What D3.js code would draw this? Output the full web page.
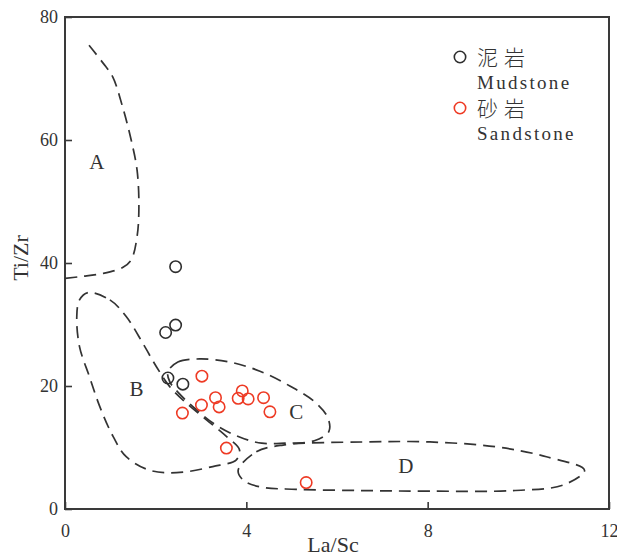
<!DOCTYPE html>
<html>
<head>
<meta charset="utf-8">
<script src="https://cdn.jsdelivr.net/npm/d3@7/dist/d3.min.js"></script>
<style>
  body { margin: 0; background: #fff; }
  text { font-family: "Liberation Serif", "Times New Roman", serif; fill: #333; }
  .cjk { font-family: "Noto Sans CJK SC", sans-serif; }
</style>
</head>
<body>
<div id="chart"></div>
<script>
// samples (La/Sc, Ti/Zr)
const mudstone = [[2.44, 39.4], [2.22, 28.7], [2.44, 29.9], [2.27, 21.3], [2.60, 20.3]];
const sandstone = [
  [3.02, 21.6], [3.32, 18.1], [3.40, 16.6], [3.01, 16.9], [2.59, 15.6],
  [3.91, 19.2], [3.82, 18.0], [4.04, 17.9], [4.38, 18.1], [4.52, 15.8],
  [3.56, 9.9], [5.32, 4.3]
];

// field outlines
const fieldA = [[0.53, 75.4], [0.84, 72.5], [1.05, 70.3], [1.27, 65.4], [1.46, 60.0], [1.59, 55.1],
  [1.63, 49.2], [1.59, 44.3], [1.46, 40.5], [1.28, 39.3], [0.84, 38.3], [0.36, 37.8], [0.0, 37.5]];
const fieldB = [[0.51, 35.2], [0.99, 34.0], [1.35, 31.3], [1.72, 26.9], [2.02, 23.1], [2.31, 19.9],
  [2.68, 17.2], [3.12, 14.5], [3.56, 11.8], [3.85, 9.6], [3.78, 8.0], [3.26, 6.9], [2.46, 5.9],
  [1.87, 6.3], [1.35, 8.5], [1.06, 11.8], [0.77, 16.6], [0.54, 21.5], [0.32, 26.4], [0.26, 31.3], [0.32, 34.0]];
const fieldC = [[2.27, 22.3], [2.49, 23.9], [2.97, 24.4], [3.63, 23.9], [4.30, 22.4], [4.96, 20.0],
  [5.51, 17.4], [5.80, 14.8], [5.82, 12.6], [5.50, 11.1], [4.85, 10.7], [4.34, 10.7], [3.85, 11.7],
  [3.30, 13.8], [2.86, 16.4], [2.49, 19.0], [2.31, 20.7]];
const fieldD = [[3.82, 6.3], [4.22, 9.3], [4.81, 10.4], [6.57, 10.9], [8.05, 10.9], [9.52, 10.1],
  [10.62, 8.5], [11.46, 6.3], [10.99, 3.9], [9.88, 3.0], [8.05, 2.9], [6.57, 3.0], [5.10, 3.2],
  [4.30, 3.6], [3.93, 4.7]];

const fieldLabels = ['A', 'B', 'C', 'D'];
const fieldLabelPos = [[0.70, 56.5], [1.58, 19.6], [5.10, 15.8], [7.52, 7.0]];

const xTicks = [0, 4, 8, 12];
const yTicks = [0, 20, 40, 60, 80];

const width = 617, height = 556;
const margin = { top: 17, right: 8, bottom: 47, left: 65 };

const svg = d3.select('#chart')
  .append('svg')
  .attr('width', width)
  .attr('height', height);

const x = d3.scaleLinear().domain([0, 12]).range([margin.left, width - margin.right]);
const y = d3.scaleLinear().domain([0, 80]).range([height - margin.bottom, margin.top]);

// frame
svg.append('rect')
  .attr('x', x(0))
  .attr('y', y(80))
  .attr('width', x(12) - x(0))
  .attr('height', y(0) - y(80))
  .attr('fill', 'none')
  .attr('stroke', '#3a3a3a')
  .attr('stroke-width', 2);

// axes, ticks inward
const xAxis = svg.append('g')
  .attr('transform', 'translate(0,' + y(0) + ')')
  .call(d3.axisBottom(x).tickValues(xTicks).tickSizeInner(-7).tickSizeOuter(0).tickPadding(12));
const yAxis = svg.append('g')
  .attr('transform', 'translate(' + x(0) + ',0)')
  .call(d3.axisLeft(y).tickValues(yTicks).tickSizeInner(-7).tickSizeOuter(0).tickPadding(12));

[xAxis, yAxis].forEach(g => {
  g.select('.domain').remove();
  g.selectAll('line').attr('stroke', '#3a3a3a').attr('stroke-width', 1.6);
  g.selectAll('text')
    .attr('fill', '#333')
    .style('font-family', '"Liberation Serif", serif')
    .style('font-size', '18px');
});
xAxis.selectAll('text').attr('dy', '0.9em');
yAxis.selectAll('text').attr('dx', '5px');

// axis titles
svg.append('text')
  .attr('x', (x(0) + x(12)) / 2 - 4)
  .attr('y', 552)
  .attr('text-anchor', 'middle')
  .style('font-size', '22px')
  .text('La/Sc');

svg.append('text')
  .attr('transform', 'translate(28,258) rotate(-90)')
  .attr('text-anchor', 'middle')
  .style('font-size', '22px')
  .text('Ti/Zr');

// fields
const closed = d3.line().x(d => x(d[0])).y(d => y(d[1])).curve(d3.curveCatmullRomClosed.alpha(0.5));
const open = d3.line().x(d => x(d[0])).y(d => y(d[1])).curve(d3.curveCatmullRom.alpha(0.5));

const fields = svg.append('g')
  .attr('fill', 'none')
  .attr('stroke', '#333')
  .attr('stroke-width', 1.7)
  .attr('stroke-dasharray', '12,7');

fields.append('path').attr('d', open(fieldA));
[fieldB, fieldC, fieldD].forEach(f => fields.append('path').attr('d', closed(f)));

svg.selectAll('.field-label')
  .data(fieldLabels)
  .enter()
  .append('text')
  .attr('class', 'field-label')
  .attr('x', (d, i) => x(fieldLabelPos[i][0]))
  .attr('y', (d, i) => y(fieldLabelPos[i][1]))
  .attr('text-anchor', 'middle')
  .attr('dy', '0.35em')
  .style('font-size', '21px')
  .text(d => d);

// samples
svg.append('g')
  .selectAll('circle')
  .data(mudstone)
  .enter()
  .append('circle')
  .attr('cx', d => x(d[0]))
  .attr('cy', d => y(d[1]))
  .attr('r', 5.7)
  .attr('fill', 'none')
  .attr('stroke', '#2e2e2e')
  .attr('stroke-width', 1.6);

svg.append('g')
  .selectAll('circle')
  .data(sandstone)
  .enter()
  .append('circle')
  .attr('cx', d => x(d[0]))
  .attr('cy', d => y(d[1]))
  .attr('r', 5.7)
  .attr('fill', 'none')
  .attr('stroke', '#ee3a24')
  .attr('stroke-width', 1.6);

// legend
const legend = svg.append('g');
const legendItems = [
  { cn: '泥岩', en: 'Mudstone', color: '#2e2e2e', y: 57 },
  { cn: '砂岩', en: 'Sandstone', color: '#ee3a24', y: 108 },
];
legendItems.forEach(item => {
  legend.append('circle')
    .attr('cx', 460)
    .attr('cy', item.y)
    .attr('r', 5.7)
    .attr('fill', 'none')
    .attr('stroke', item.color)
    .attr('stroke-width', 1.6);
  legend.append('text')
    .attr('class', 'cjk')
    .attr('x', 477)
    .attr('y', item.y)
    .attr('dy', '0.36em')
    .style('font-size', '21px')
    .style('letter-spacing', '6px')
    .style('font-weight', '300')
    .text(item.cn);
  legend.append('text')
    .attr('x', 477)
    .attr('y', item.y + 32)
    .style('font-size', '19px')
    .style('letter-spacing', '2.3px')
    .text(item.en);
});
</script>
</body>
</html>
